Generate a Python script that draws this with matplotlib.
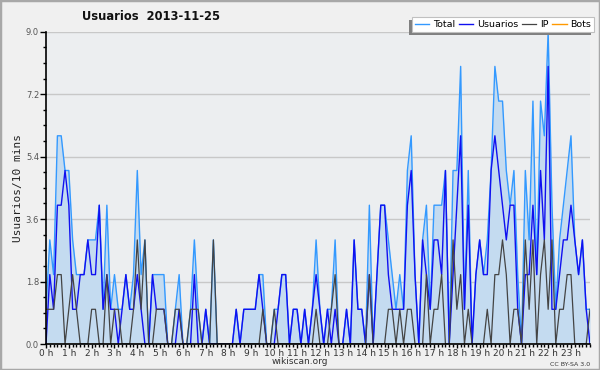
import matplotlib.pyplot as plt
import matplotlib.patheffects as pe
import numpy as np
from matplotlib.patches import Rectangle
from matplotlib.ticker import MultipleLocator, FormatStrFormatter

# users per 10 min bin, 2013-11-25 (144 bins, one row = 4 hours)
total = [1, 3, 2, 6, 6, 5, 5, 3, 2, 2, 2, 3, 3, 3, 4, 1, 4, 1, 2, 1, 1, 2, 1, 2,
         5, 2, 3, 0, 2, 2, 2, 2, 0, 0, 1, 2, 0, 0, 1, 3, 1, 0, 1, 0, 3, 0, 0, 0,
         0, 0, 1, 0, 1, 1, 1, 1, 2, 2, 0, 0, 1, 1, 2, 2, 0, 1, 1, 0, 1, 0, 1, 3,
         1, 0, 1, 1, 3, 0, 0, 1, 0, 3, 1, 1, 0, 4, 0, 2, 4, 4, 3, 2, 1, 2, 1, 5,
         6, 2, 0, 3, 4, 1, 4, 4, 4, 5, 0, 5, 5, 8, 1, 5, 0, 2, 3, 2, 3, 5, 8, 7,
         7, 5, 4, 5, 2, 0, 5, 3, 7, 2, 7, 6, 9, 4, 1, 3, 4, 5, 6, 3, 2, 3, 1, 1]
usuarios = [0, 2, 1, 4, 4, 5, 4, 1, 1, 2, 2, 3, 2, 2, 4, 1, 2, 1, 1, 0, 1, 2, 1, 1,
            2, 1, 0, 0, 2, 1, 1, 1, 0, 0, 0, 1, 0, 0, 0, 2, 0, 0, 1, 0, 0, 0, 0, 0,
            0, 0, 1, 0, 1, 1, 1, 1, 2, 1, 0, 0, 0, 1, 2, 2, 0, 1, 1, 0, 1, 0, 1, 2,
            1, 0, 1, 0, 1, 0, 0, 1, 0, 3, 1, 1, 0, 2, 0, 2, 4, 4, 2, 1, 1, 1, 1, 4,
            5, 2, 0, 3, 2, 1, 3, 3, 2, 5, 0, 2, 4, 6, 1, 4, 0, 2, 3, 2, 2, 5, 6, 5,
            4, 3, 4, 4, 1, 0, 2, 2, 4, 2, 5, 3, 8, 1, 1, 2, 3, 3, 4, 3, 2, 3, 1, 0]
ip = [1, 1, 1, 2, 2, 0, 1, 2, 1, 0, 0, 0, 1, 1, 0, 0, 2, 0, 1, 1, 0, 0, 0, 1,
      3, 1, 3, 0, 0, 1, 1, 1, 0, 0, 1, 1, 0, 0, 1, 1, 1, 0, 0, 0, 3, 0, 0, 0,
      0, 0, 0, 0, 0, 0, 0, 0, 0, 1, 0, 0, 1, 0, 0, 0, 0, 0, 0, 0, 0, 0, 0, 1,
      0, 0, 0, 1, 2, 0, 0, 0, 0, 0, 0, 0, 0, 2, 0, 0, 0, 0, 1, 1, 0, 1, 0, 1,
      1, 0, 0, 0, 2, 0, 1, 1, 2, 0, 0, 3, 1, 2, 0, 1, 0, 0, 0, 0, 1, 0, 2, 2,
      3, 2, 0, 1, 1, 0, 3, 1, 3, 0, 2, 3, 1, 3, 0, 1, 1, 2, 2, 0, 0, 0, 0, 1]
bots = [0] * 144
hour_labels = ['%d h' % h for h in range(24)]
y_ticks = [0.0, 1.8, 3.6, 5.4, 7.2, 9.0]

x = np.arange(len(total))

fig = plt.figure(figsize=(6, 3.7), dpi=100, facecolor='#f0f0f0')
ax = fig.add_axes([46/600, 26/370, 544/600, 312.3/370])
ax.set_facecolor('#eceef0')

#Series
ax.fill_between(x, total, color='#c4dbf0', lw=0, zorder=1)
ax.plot(x, bots, color='#ff9900', lw=1, zorder=1.5)
l_total, = ax.plot(x, total, color='#3399ff', lw=1, zorder=2)
l_user, = ax.plot(x, usuarios, color='#1010f0', lw=1, zorder=2.1)
l_ip, = ax.plot(x, ip, color='#444444', lw=0.9, zorder=2.2)
l_bots, = ax.plot([], [], color='#ff9900', lw=1)

#Axes
ax.set_xlim(0, len(total) - 1)
ax.set_ylim(0, 9)
ax.set_xticks(range(0, 144, 6))
ax.set_xticklabels(hour_labels)
ax.xaxis.set_minor_locator(MultipleLocator(1))
ax.set_yticks(y_ticks)
ax.yaxis.set_major_formatter(FormatStrFormatter('%.1f'))
ax.yaxis.set_minor_locator(MultipleLocator(0.45))
ax.tick_params(axis='x', which='major', length=3, width=1, labelsize=6.5,
               labelcolor='#333333', pad=0.5)
ax.tick_params(axis='y', which='major', length=4, width=1, labelsize=6,
               labelcolor='#555555', pad=1)
ax.tick_params(axis='both', which='minor', length=2.5, width=1)
ax.grid(axis='y', which='major', color='#c8c8c8', lw=1)
ax.set_axisbelow(True)
for s in ['top', 'right']:
    ax.spines[s].set_visible(False)
ax.spines['left'].set_linewidth(1.2)
ax.spines['bottom'].set_linewidth(1.2)
ax.set_ylabel('Usuarios/10 mins', fontsize=8, family='DejaVu Sans Mono',
              color='#222222', labelpad=2)

#Texts
fig.text(151/600, 1 - 17/370, 'Usuarios  2013-11-25', ha='center', va='center',
         fontsize=8.3, fontweight='bold', color='#111111')
fig.text(300/600, 1 - 362/370, 'wikiscan.org', ha='center', va='center',
         fontsize=6.5, color='#333333')
fig.text(590/600, 1 - 364.5/370, 'CC BY-SA 3.0', ha='right', va='center',
         fontsize=4.5, color='#333333')

#Legend, grey shadow to the lower left
leg = fig.legend([l_total, l_user, l_ip, l_bots], ['Total', 'Usuarios', 'IP', 'Bots'],
                 loc='upper right', bbox_to_anchor=(594/600, 1 - 17/370), ncol=4,
                 fontsize=6.8, frameon=True, fancybox=False, framealpha=1,
                 handlelength=1.5, handletextpad=0.4, columnspacing=0.4,
                 borderpad=0.3, borderaxespad=0)
frame = leg.get_frame()
frame.set_facecolor('white')
frame.set_edgecolor('#c0c0c0')
frame.set_linewidth(0.8)
frame.set_path_effects([pe.SimplePatchShadow(offset=(-2.2, -2.2), shadow_rgbFace='#808080',
                                             alpha=1.0), pe.Normal()])

#Outer frame
fig.add_artist(Rectangle((0, 0), 1, 1, transform=fig.transFigure, fill=False,
                         edgecolor='#a8a8a8', lw=2.5))

fig.savefig('out.png', dpi=100, facecolor=fig.get_facecolor())
